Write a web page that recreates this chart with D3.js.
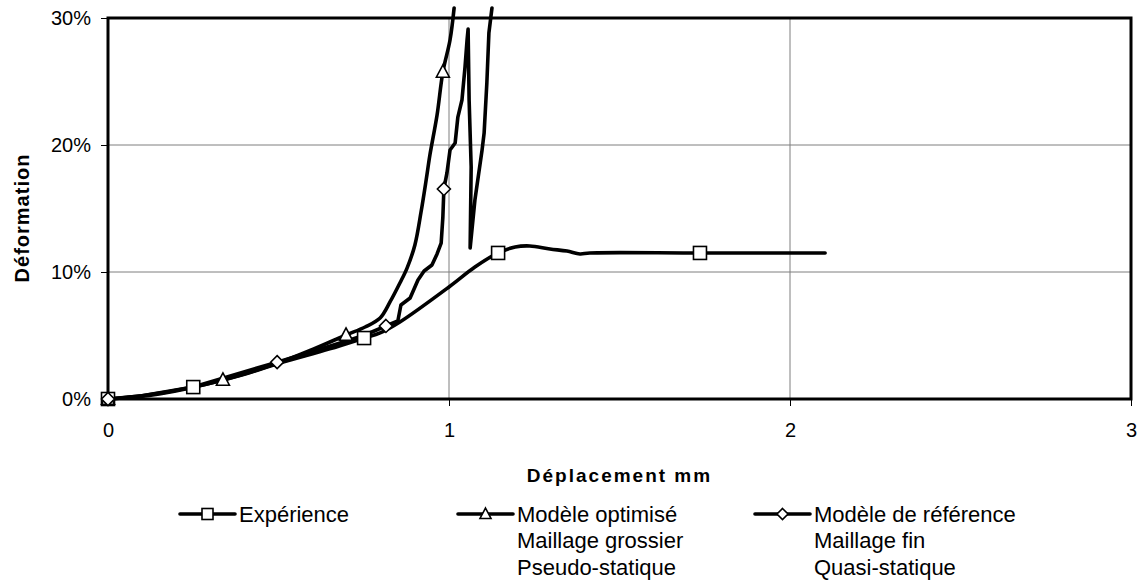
<!DOCTYPE html>
<html>
<head>
<meta charset="utf-8">
<script src="https://cdn.jsdelivr.net/npm/d3@7"></script>
<style>
  html, body { margin: 0; padding: 0; background: #fff; }
  svg { display: block; font-family: "Liberation Sans", Arial, sans-serif; }
</style>
</head>
<body>
<svg id="chart" width="1140" height="580"></svg>
<script>
// ---- Data (x: displacement mm, y: deformation %) ----
const experienceX = [0, 0.1, 0.25, 0.4, 0.5, 0.65, 0.751, 0.798, 0.856, 1.0, 1.076, 1.144, 1.194, 1.237, 1.296, 1.346, 1.384, 1.413, 1.736, 2.103];
const experienceY = [0, 0.25, 0.94, 1.95, 2.8, 3.95, 4.8, 5.2, 6.06, 8.82, 10.39, 11.5, 11.97, 12.05, 11.81, 11.65, 11.42, 11.5, 11.5, 11.5];
const experienceMarkers = [0, 2, 6, 11, 18];

const optimiseX = [0, 0.15, 0.337, 0.5, 0.6, 0.698, 0.754, 0.798, 0.827, 0.856, 0.877, 0.900, 0.918, 0.933, 0.944, 0.965, 0.982, 1.003, 1.015];
const optimiseY = [0, 0.4, 1.5, 2.85, 3.9, 5.04, 5.67, 6.38, 7.64, 9.13, 10.31, 12.13, 14.72, 17.24, 19.21, 22.36, 25.75, 28.27, 30.79];
const optimiseMarkers = [0, 2, 5, 16];

const referenceX = [0, 0.1, 0.25, 0.496, 0.65, 0.75, 0.815, 0.850, 0.859, 0.886, 0.909, 0.927, 0.950, 0.965, 0.977, 0.982, 0.985, 0.994, 1.003, 1.018, 1.026, 1.038, 1.047, 1.053, 1.056, 1.059, 1.065, 1.062, 1.076, 1.097, 1.103, 1.111, 1.117, 1.126];
const referenceY = [0, 0.25, 0.95, 2.9, 4.15, 5.0, 5.75, 6.14, 7.40, 7.95, 9.37, 10.08, 10.55, 11.42, 12.28, 14.33, 16.54, 17.80, 19.61, 20.16, 22.20, 23.54, 26.14, 28.27, 29.13, 23.54, 18.27, 11.89, 15.67, 19.61, 20.94, 24.88, 28.82, 30.79];
const referenceMarkers = [0, 3, 6, 16];

const xTicks = [0, 1, 2, 3];
const yTicks = [0, 10, 20, 30];
const legendLabels = [
  ["Expérience"],
  ["Modèle optimisé", "Maillage grossier", "Pseudo-statique"],
  ["Modèle de référence", "Maillage fin", "Quasi-statique"]
];
const xTitle = "Déplacement mm";
const yTitle = "Déformation";

// ---- Chart ----
const svg = d3.select("#chart");
const pLeft = 108, pRight = 1131, pTop = 18, pBottom = 399;
const x = d3.scaleLinear().domain([0, 3]).range([pLeft, pRight]);
const y = d3.scaleLinear().domain([0, 30]).range([pBottom, pTop]);

// gridlines
svg.append("g").selectAll("line").data(yTicks.filter(d => d > 0 && d < 30)).join("line")
  .attr("x1", pLeft).attr("x2", pRight).attr("y1", d => y(d)).attr("y2", d => y(d))
  .attr("stroke", "#7f7f7f").attr("stroke-width", 1);
svg.append("g").selectAll("line").data(xTicks.filter(d => d > 0 && d < 3)).join("line")
  .attr("y1", pTop).attr("y2", pBottom).attr("x1", d => x(d)).attr("x2", d => x(d))
  .attr("stroke", "#7f7f7f").attr("stroke-width", 1);

// axes
const yAxis = svg.append("g").attr("transform", `translate(${pLeft},0)`)
  .call(d3.axisLeft(y).tickValues(yTicks).tickFormat(d => d + "%").tickSize(7).tickPadding(10));
const xAxis = svg.append("g").attr("transform", `translate(0,${pBottom})`)
  .call(d3.axisBottom(x).tickValues(xTicks).tickFormat(d3.format("d")).tickSize(7).tickPadding(17));
[yAxis, xAxis].forEach(a => {
  a.select(".domain").remove();
  a.selectAll(".tick line").attr("stroke", "#000").attr("stroke-width", 1);
  a.selectAll(".tick text").attr("fill", "#000").style("font-size", "20px")
    .style("font-family", "'Liberation Sans', Arial, sans-serif");
});

// frame
svg.append("rect").attr("x", pLeft).attr("y", pTop).attr("width", pRight - pLeft).attr("height", pBottom - pTop)
  .attr("fill", "none").attr("stroke", "#000").attr("stroke-width", 3);

// axis titles
svg.append("text").attr("x", (pLeft + pRight) / 2).attr("y", 475).attr("dy", "0.35em")
  .attr("text-anchor", "middle").style("font-size", "19px").style("font-weight", "bold")
  .style("letter-spacing", "2px").style("white-space", "pre").text(xTitle);
svg.append("text").attr("transform", "translate(22,218) rotate(-90)").attr("dy", "0.35em")
  .attr("text-anchor", "middle").style("font-size", "20px").style("font-weight", "bold")
  .style("letter-spacing", "1px").text(yTitle);

// series
const series = [
  { xs: experienceX, ys: experienceY, marks: experienceMarkers, sym: "square", curve: d3.curveCatmullRom.alpha(0.5) },
  { xs: optimiseX, ys: optimiseY, marks: optimiseMarkers, sym: "triangle", curve: d3.curveCatmullRom.alpha(0.5) },
  { xs: referenceX, ys: referenceY, marks: referenceMarkers, sym: "diamond", curve: d3.curveLinear }
];

function drawMarker(g, sym, cx, cy, s) {
  if (sym === "square") {
    g.append("rect").attr("x", cx - s / 2).attr("y", cy - s / 2).attr("width", s).attr("height", s)
      .attr("fill", "#fff").attr("stroke", "#000").attr("stroke-width", 1.6);
  } else if (sym === "triangle") {
    const h = s * 0.9;
    g.append("path").attr("d", `M${cx},${cy - h * 0.6}L${cx + s / 2},${cy + h * 0.45}L${cx - s / 2},${cy + h * 0.45}Z`)
      .attr("fill", "#fff").attr("stroke", "#000").attr("stroke-width", 1.6);
  } else {
    const r = s / 2;
    g.append("path").attr("d", `M${cx},${cy - r}L${cx + r},${cy}L${cx},${cy + r}L${cx - r},${cy}Z`)
      .attr("fill", "#fff").attr("stroke", "#000").attr("stroke-width", 1.6);
  }
}

series.forEach(s => {
  const pts = s.xs.map((v, i) => [v, s.ys[i]]);
  const line = d3.line().x(d => x(d[0])).y(d => y(d[1])).curve(s.curve);
  svg.append("path").datum(pts).attr("d", line).attr("fill", "none")
    .attr("stroke", "#000").attr("stroke-width", 3.6).attr("stroke-linejoin", "round").attr("stroke-linecap", "round");
});
series.forEach(s => {
  const g = svg.append("g");
  s.marks.forEach(i => drawMarker(g, s.sym, x(s.xs[i]), y(s.ys[i]), 13));
});

// legend
const legendItems = [
  { x0: 180, sym: "square", lines: legendLabels[0] },
  { x0: 458, sym: "triangle", lines: legendLabels[1] },
  { x0: 755, sym: "diamond", lines: legendLabels[2] }
];
const legY = 514, legDy = 26.5;
legendItems.forEach(it => {
  const g = svg.append("g");
  g.append("line").attr("x1", it.x0).attr("x2", it.x0 + 55).attr("y1", legY).attr("y2", legY)
    .attr("stroke", "#000").attr("stroke-width", 3.6).attr("stroke-linecap", "round");
  drawMarker(g, it.sym, it.x0 + 27.5, legY, 11);
  it.lines.forEach((t, j) => {
    g.append("text").attr("x", it.x0 + 59).attr("y", legY + j * legDy).attr("dy", "0.35em")
      .style("font-size", "22px").attr("fill", "#000").text(t);
  });
});
</script>
</body>
</html>
